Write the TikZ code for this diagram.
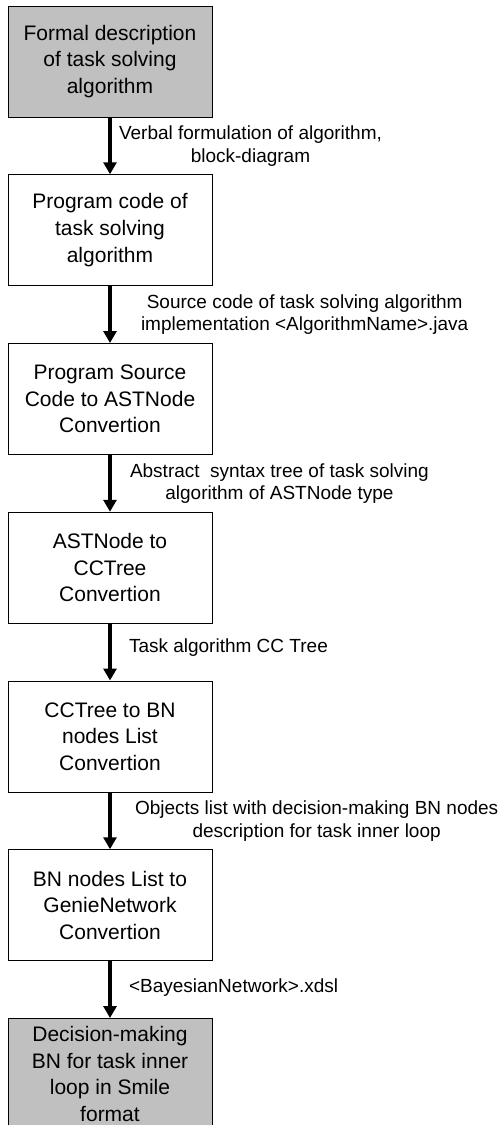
\documentclass[tikz,border=0pt]{standalone}
\usepackage{fontspec}
\setmainfont{Liberation Sans}
\usetikzlibrary{arrows.meta}
\definecolor{boxgrey}{HTML}{C0C0C0}
\begin{document}
\begin{tikzpicture}[x=1pt,y=-1pt,
  box/.style={draw=black, line width=1pt, minimum width=204pt, minimum height=111pt,
    inner sep=0pt, align=center, font=\fontsize{21}{26.7}\selectfont},
  greybox/.style={box, fill=boxgrey},
  flow/.style={line width=4pt, -{Triangle[width=13pt,length=12pt]}},
  lab/.style={anchor=west, inner sep=0pt, align=center, font=\fontsize{19}{22.5}\selectfont}]
\useasboundingbox (0,0) rectangle (500,1125);
\node[greybox] (b1) at (110,61.5) {Formal description\\of task solving\\algorithm};
\node[box] (b2) at (110,230.25) {Program code of\\task solving\\algorithm};
\node[box] (b3) at (110,399) {Program Source\\Code to ASTNode\\Convertion};
\node[box] (b4) at (110,567.75) {ASTNode to\\CCTree\\Convertion};
\node[box] (b5) at (110,736.5) {CCTree to BN\\nodes List\\Convertion};
\node[box] (b6) at (110,905.25) {BN nodes List to\\GenieNetwork\\Convertion};
\node[greybox] (b7) at (110,1074) {Decision-making\\BN for task inner\\loop in Smile\\format};
\draw[flow] (b1) -- node[lab, xshift=7pt] {Verbal formulation of algorithm,\\block-diagram} (b2);
\draw[flow] (b2) -- node[lab, xshift=29pt] {Source code of task solving algorithm\\implementation <AlgorithmName>.java} (b3);
\draw[flow] (b3) -- node[lab, xshift=18pt] {Abstract~ syntax tree of task solving\\algorithm of ASTNode type} (b4);
\draw[flow] (b4) -- node[lab, xshift=17pt, yshift=4.5pt] {Task algorithm CC Tree} (b5);
\draw[flow] (b5) -- node[lab, xshift=23pt] {Objects list with decision-making BN nodes\\description for task inner loop} (b6);
\draw[flow] (b6) -- node[lab, xshift=17pt, yshift=2.5pt] {<BayesianNetwork>.xdsl} (b7);
\end{tikzpicture}
\end{document}
